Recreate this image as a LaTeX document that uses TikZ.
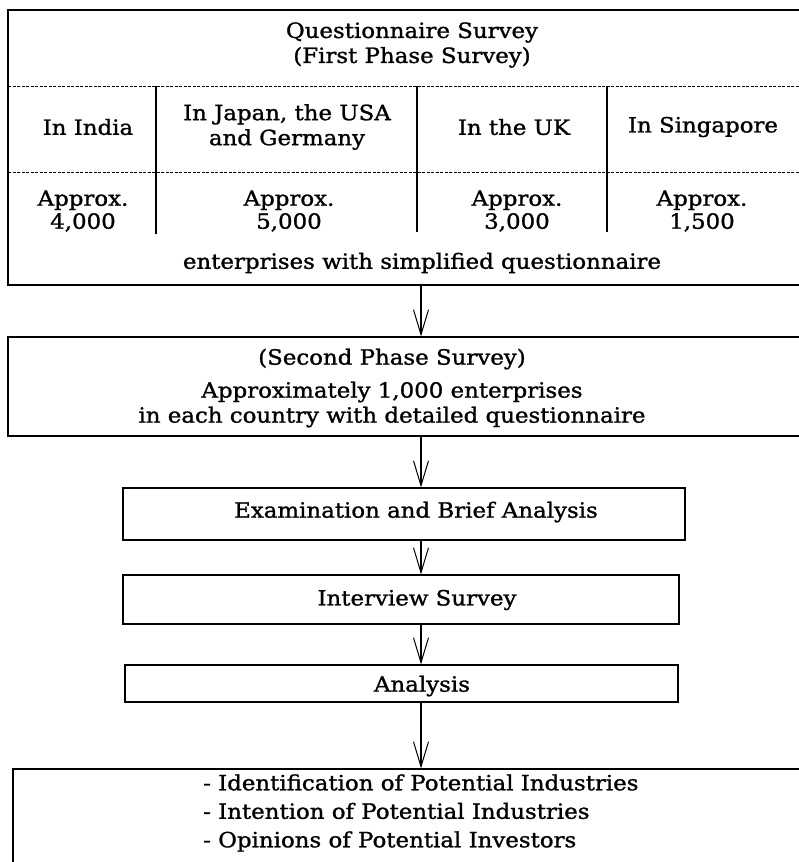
\documentclass[tikz,border=0pt]{standalone}
\usepackage{fontspec}
\setmainfont{DejaVu Serif}[FakeStretch=1.09,FakeBold=1.2]
\usetikzlibrary{arrows.meta}
\begin{document}
\begin{tikzpicture}[x=1pt,y=-1pt,
  box/.style={draw,line width=1.1pt,inner sep=0pt},
  lbl/.style={font=\fontsize{21}{25}\selectfont,align=center,inner sep=0pt},
  arr/.style={line width=1.1pt,-{Straight Barb[length=25pt,width=15pt,line width=1pt]}},
  sepline/.style={line width=0.6pt,dash pattern=on 3pt off 1.5pt},
  divline/.style={line width=1.1pt}]
\useasboundingbox[fill=white] (0,0) rectangle (799,862);
% boxes
\node[box,minimum width=822pt,minimum height=275pt] (b1) at (419,147.5) {};
\node[box,minimum width=822pt,minimum height=99pt] (b2) at (419,386.5) {};
\node[box,minimum width=562pt,minimum height=52pt] (b3) at (404,514) {};
\node[box,minimum width=556pt,minimum height=49pt] (b4) at (401,599.5) {};
\node[box,minimum width=553pt,minimum height=37pt] (b5) at (401.5,683.5) {};
\node[box,minimum width=817pt,minimum height=140pt] (b6) at (421.5,839) {};
% table inside first box
\draw[sepline] (8,86) -- (799,86);
\draw[sepline] (8,172) -- (799,172);
\draw[divline] (156,86) -- (156,234);
\draw[divline] (417,86) -- (417,232);
\draw[divline] (607,86) -- (607,232);
% texts
\node[lbl] (t1) at (412,45) {Questionnaire Survey\\(First Phase Survey)};
\node[lbl] (c1) at (88,127) {In India};
\node[lbl] (c2) at (287,127) {In Japan, the USA\\and Germany};
\node[lbl] (c3) at (514,127) {In the UK};
\node[lbl] (c4) at (703,127) {In Singapore};
\node[lbl,font=\fontsize{21}{23}\selectfont] (n1) at (83,211) {Approx.\\4,000};
\node[lbl,font=\fontsize{21}{23}\selectfont] (n2) at (289,211) {Approx.\\5,000};
\node[lbl,font=\fontsize{21}{23}\selectfont] (n3) at (517,211) {Approx.\\3,000};
\node[lbl,font=\fontsize{21}{23}\selectfont] (n4) at (702,211) {Approx.\\1,500};
\node[lbl] (t2) at (422,263) {enterprises with simplified questionnaire};
\node[lbl] (t3) at (392,388) {(Second Phase Survey)\\[8pt]Approximately 1,000 enterprises\\in each country with detailed questionnaire};
\node[lbl] (t4) at (416,512) {Examination and Brief Analysis};
\node[lbl] (t5) at (417,600) {Interview Survey};
\node[lbl] (t6) at (422,686) {Analysis};
\node[lbl,align=left,anchor=west,font=\fontsize{21}{28.5}\selectfont] (t7) at (203,813) {- Identification of Potential Industries\\- Intention of Potential Industries\\- Opinions of Potential Investors};
% arrows
\coordinate (ax) at (421,0);
\draw[arr] (b1.south -| ax) -- (b2.north -| ax);
\draw[arr] (b2.south -| ax) -- (b3.north -| ax);
\draw[arr] (b3.south -| ax) -- (b4.north -| ax);
\draw[arr] (b4.south -| ax) -- (b5.north -| ax);
\draw[arr] (b5.south -| ax) -- (b6.north -| ax);
\end{tikzpicture}
\end{document}
